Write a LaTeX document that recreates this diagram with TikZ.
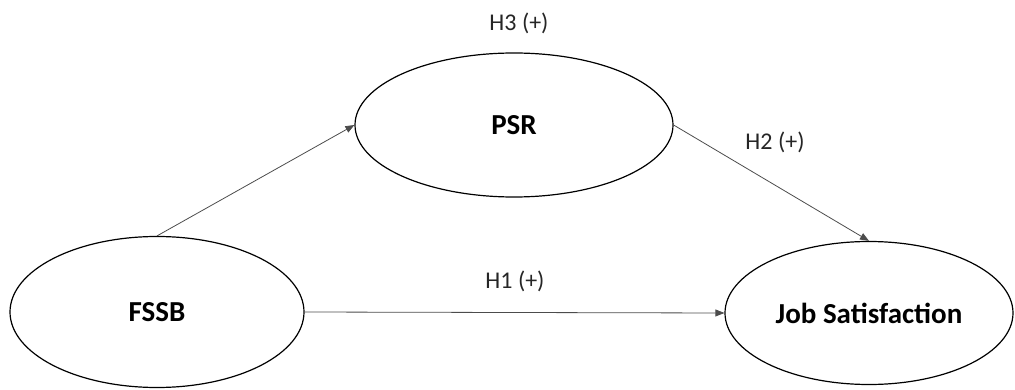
\documentclass[tikz,border=0pt]{standalone}
\usepackage{fontspec}
\setmainfont{Carlito}
\usetikzlibrary{shapes.geometric,arrows.meta}
\begin{document}
\begin{tikzpicture}[x=1pt,y=-1pt,
  construct/.style={ellipse,draw=black,line width=1.2pt,inner sep=0pt,font=\fontsize{29}{34}\selectfont\bfseries},
  path/.style={draw=black!70,line width=0.8pt,-{Triangle[length=9pt,width=7pt]}},
  hyp/.style={font=\fontsize{24}{28}\selectfont,text=black!85,inner sep=0pt}]
\useasboundingbox (0,0) rectangle (1015,390);
\node[construct,minimum width=294pt,minimum height=151pt] (fssb) at (157,312) {FSSB};
\node[construct,minimum width=318pt,minimum height=144pt] (psr) at (514,125) {PSR};
\node[construct,minimum width=288pt,minimum height=143pt] (js) at (869,313) {Job Satisfaction};
\draw[path] (fssb.north) -- (psr.west);
\draw[path] (psr.east) -- (js.north);
\draw[path] (fssb.east) -- (js.west);
\node[hyp] (h3) at (519,23) {H3 (+)};
\node[hyp] (h2) at (775,142) {H2 (+)};
\node[hyp] (h1) at (515,281) {H1 (+)};
\end{tikzpicture}
\end{document}
